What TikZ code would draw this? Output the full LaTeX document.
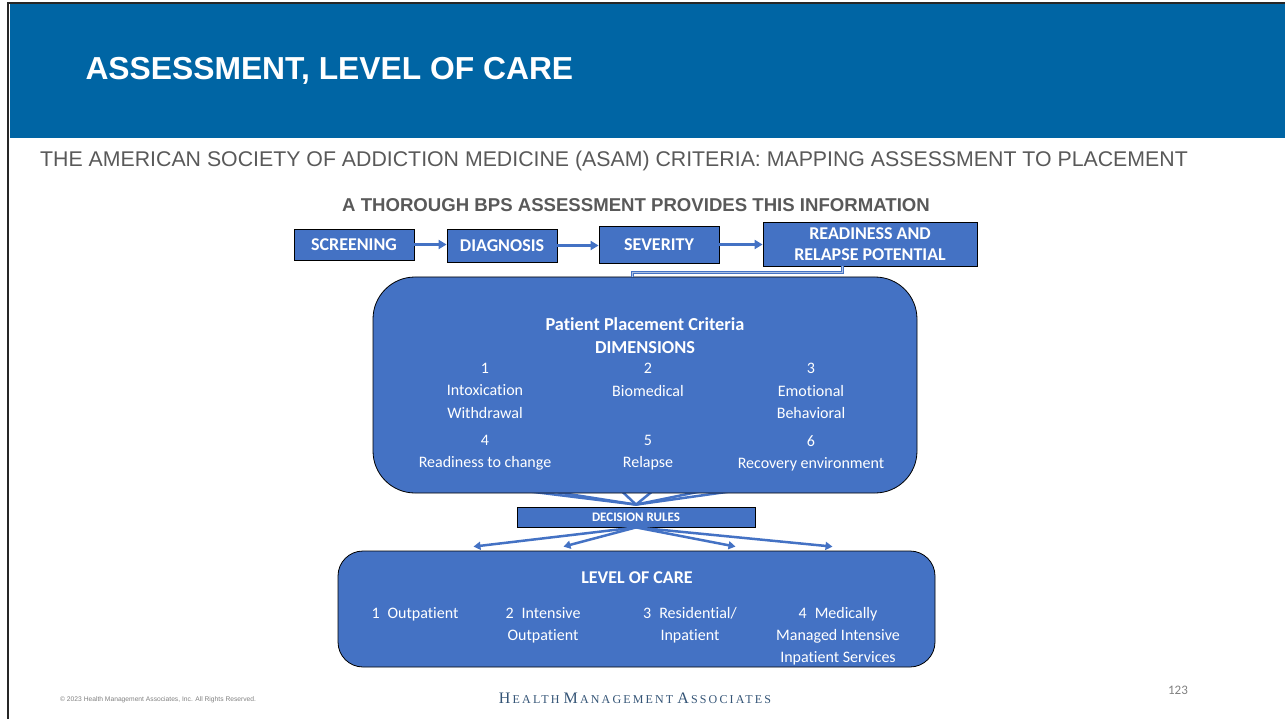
\documentclass[tikz,border=0pt]{standalone}
\usepackage{fontspec}
\setmainfont{Carlito}[Ligatures=NoCommon]
\newfontfamily\arialfont{Liberation Sans}
\newfontfamily\hmafont[LetterSpace=18]{Liberation Serif}
\usepackage{tikz}
\usetikzlibrary{positioning, calc, arrows.meta, backgrounds}
\definecolor{hmablue}{RGB}{0,101,164}
\definecolor{boxblue}{RGB}{68,114,196}
\definecolor{slidegray}{RGB}{89,89,89}
\definecolor{hmanavy}{RGB}{52,84,118}
\newcommand{\HmaWord}[2]{{\fontsize{16}{18}\selectfont #1}\kern2.2pt{\fontsize{12}{14}\selectfont #2}}

\begin{document}
\begin{tikzpicture}[x=1pt, y=-1pt,
    stepbox/.style={draw=black, fill=boxblue, text=white, line width=0.8pt, inner sep=0pt,
        align=center, font=\fontsize{18}{21}\selectfont\bfseries},
    flow/.style={boxblue, line width=3pt, -{Triangle[length=8pt,width=9pt]}},
    spread/.style={boxblue, line width=2.5pt, -{Triangle[length=7pt,width=8pt]}},
    dimtxt/.style={text=white, inner sep=0pt, anchor=north, align=center,
        font=\fontsize{16}{22.5}\selectfont}]
    \useasboundingbox (0,0) rectangle (1285,719);

    % Slide frame and header
    \fill[hmablue] (9.5,4.5) rectangle (1285,138);
    \draw[line width=2.5pt, black!85] (8,719) |- (1285,3);
    \node[anchor=west, text=white, font=\arialfont\bfseries\fontsize{31.8}{34}\selectfont] (title) at (82,71) {ASSESSMENT, LEVEL OF CARE};
    \node[anchor=west, inner sep=0pt, text=slidegray, font=\arialfont\fontsize{21.3}{23}\selectfont] (subtitle) at (40,161)
        {THE AMERICAN SOCIETY OF ADDICTION MEDICINE (ASAM) CRITERIA: MAPPING ASSESSMENT TO PLACEMENT};
    \node[text=slidegray, font=\arialfont\bfseries\fontsize{18.6}{20}\selectfont] (bps) at (636,205)
        {A THOROUGH BPS ASSESSMENT PROVIDES THIS INFORMATION};

    % Assessment steps
    \node[stepbox, minimum width=120, minimum height=31] (screen) at (354,244.5) {SCREENING};
    \node[stepbox, minimum width=110, minimum height=33] (diag) at (502,245.5) {DIAGNOSIS};
    \node[stepbox, minimum width=120, minimum height=37] (sever) at (659,244.5) {SEVERITY};
    \node[stepbox, minimum width=214, minimum height=44] (ready) at (870,244) {READINESS AND\\RELAPSE POTENTIAL};
    \draw[flow] (screen.east) -- (screen.east -| diag.west);
    \draw[flow] (diag.east) -- (diag.east -| sever.west);
    \draw[flow] (sever.east) -- (sever.east -| ready.west);

    % Decision rules and the lines into it
    \node[stepbox, minimum width=238, minimum height=20, font=\fontsize{13}{14}\selectfont\bfseries] (dec) at (636,517) {DECISION RULES};
    \begin{scope}[on background layer]
        \foreach \fx in {445, 485, 611, 665, 751, 805}
            \draw[boxblue, line width=2.5pt] (\fx,481) -- ([yshift=2pt]dec.north);
    \end{scope}

    % Dimensions box
    \node[draw=black, fill=boxblue, line width=0.8pt, rounded corners=42pt, minimum width=544, minimum height=216] (dims) at (645,385) {};
    \draw[boxblue, line width=1pt, double=boxblue!45, double distance=1pt]
        ([xshift=-28pt]ready.south) |- ([xshift=-13pt,yshift=4pt]dims.north) -- ([xshift=-13pt]dims.north);
    \node[dimtxt, font=\fontsize{18.3}{23}\selectfont\bfseries] (dimhead) at (645,317) {Patient Placement Criteria\\DIMENSIONS};
    \node[dimtxt] (d1) at (485,363) {1\\Intoxication\\Withdrawal};
    \node[dimtxt] (d2) at (648,363) {2\\Biomedical};
    \node[dimtxt] (d3) at (811,363) {3\\Emotional\\Behavioral};
    \node[dimtxt] (d4) at (485,435) {4\\Readiness to change};
    \node[dimtxt] (d5) at (648,435) {5\\Relapse};
    \node[dimtxt] (d6) at (811,435) {6\\Recovery environment};

    % Level of care
    \node[draw=black, fill=boxblue, line width=0.8pt, rounded corners=25pt, minimum width=597, minimum height=116] (loc) at (636.5,609) {};
    \foreach \ax in {-163, -73, 99, 196}
        \draw[spread] (dec.south) -- ([xshift=\ax pt,yshift=4pt]loc.north);
    \node[dimtxt, font=\fontsize{18}{20}\selectfont\bfseries] (lochead) at (637,571) {LEVEL OF CARE};
    \node[dimtxt, font=\fontsize{16}{22}\selectfont] (l1) at (415,607) {1\enspace Outpatient};
    \node[dimtxt, font=\fontsize{16}{22}\selectfont] (l2) at (543,607) {2\enspace Intensive\\Outpatient};
    \node[dimtxt, font=\fontsize{16}{22}\selectfont] (l3) at (690,607) {3\enspace Residential/\\Inpatient};
    \node[dimtxt, font=\fontsize{16}{22}\selectfont] (l4) at (838,607) {4\enspace Medically\\Managed Intensive\\Inpatient Services};

    % Footer
    \node[anchor=west, inner sep=0pt, text=gray, font=\arialfont\fontsize{6.7}{8}\selectfont] (copy) at (60,700)
        {© 2023 Health Management Associates, Inc. All Rights Reserved.};
    \node[inner sep=0pt, text=hmanavy, font=\hmafont] (hma) at (635,698)
        {\HmaWord{H}{EALTH}\hspace{4pt}\HmaWord{M}{ANAGEMENT}\hspace{4pt}\HmaWord{A}{SSOCIATES}};
    \node[text=gray, font=\fontsize{13}{14}\selectfont] (pagenum) at (1178,690) {123};
\end{tikzpicture}
\end{document}
